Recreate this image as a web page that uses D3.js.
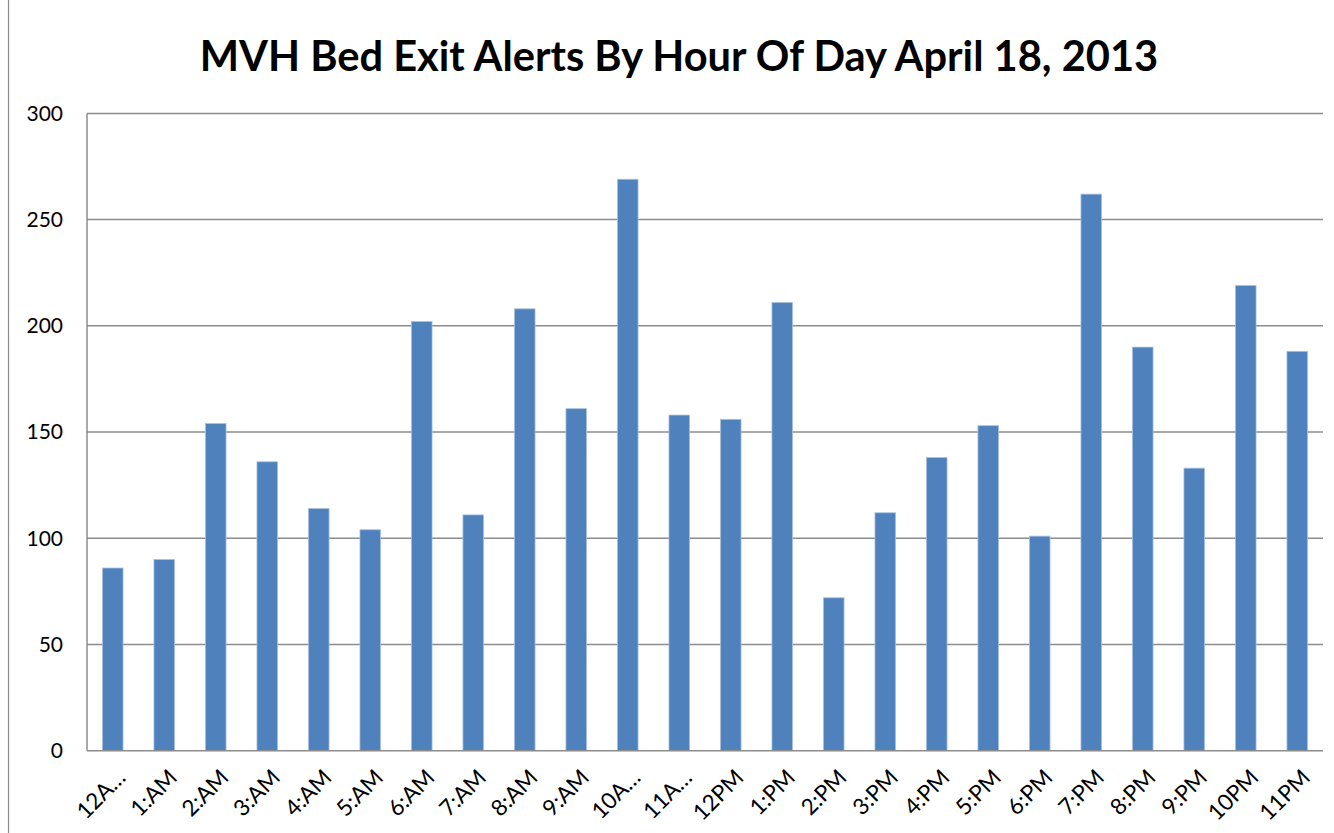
<!DOCTYPE html>
<html>
<head>
<meta charset="utf-8">
<script src="https://cdn.jsdelivr.net/npm/d3@7"></script>
<style>
  body { margin: 0; background: #fff; }
  svg { display: block; }
</style>
</head>
<body>
<div id="chart"></div>
<script>
// bed exit alerts per hour
var hours = ["12AM", "1:AM", "2:AM", "3:AM", "4:AM", "5:AM", "6:AM", "7:AM", "8:AM", "9:AM", "10AM", "11AM",
             "12PM", "1:PM", "2:PM", "3:PM", "4:PM", "5:PM", "6:PM", "7:PM", "8:PM", "9:PM", "10PM", "11PM"];
var alerts = [86, 90, 154, 136, 114, 104, 202, 111, 208, 161, 269, 158,
              156, 211, 72, 112, 138, 153, 101, 262, 190, 133, 219, 188];
var yTicks = [0, 50, 100, 150, 200, 250, 300];
// Excel cut these labels short
var shortLabels = {"12AM": "12A\u2026", "10AM": "10A\u2026", "11AM": "11A\u2026"};

function drawChart() {
    var W = 1334, H = 833;
    var margin = {top: 113.4, right: 11, bottom: 82.3, left: 87},
        width = W - margin.left - margin.right,
        height = H - margin.top - margin.bottom;

    var svg = d3.select("#chart").append("svg")
        .attr("width", W)
        .attr("height", H);

    // chart area border (only left edge is in frame)
    svg.append("rect")
        .attr("x", 8.5).attr("y", -10)
        .attr("width", 1400).attr("height", 900)
        .style("fill", "none")
        .style("stroke", "#8a8a8a")
        .style("stroke-width", 1.2);

    svg.append("text")
        .attr("x", 679)
        .attr("y", 71)
        .style("text-anchor", "middle")
        .style("font", "bold 41.6px Lato, 'Open Sans', sans-serif")
        .style("fill", "#000")
        .text("MVH Bed Exit Alerts By Hour Of Day April 18, 2013");

    var g = svg.append("g")
        .attr("transform", "translate(" + margin.left + "," + margin.top + ")");

    var x = d3.scaleBand()
        .domain(hours)
        .range([0, width])
        .paddingInner(0.6)
        .paddingOuter(0.3);

    var y = d3.scaleLinear()
        .domain([0, 300])
        .range([height, 0]);

    // gridlines
    g.append("g")
        .attr("class", "grid")
        .selectAll("line")
        .data(yTicks.filter(function(d) { return d > 0; }))
        .enter().append("line")
        .attr("x1", 0)
        .attr("x2", width)
        .attr("y1", function(d) { return y(d); })
        .attr("y2", function(d) { return y(d); })
        .style("stroke", "#8c8c8c")
        .style("stroke-width", 1.5);

    // bars
    g.selectAll(".bar")
        .data(alerts)
        .enter().append("rect")
        .attr("class", "bar")
        .attr("x", function(d, i) { return x(hours[i]); })
        .attr("width", x.bandwidth())
        .attr("y", function(d) { return y(d); })
        .attr("height", function(d) { return height - y(d); })
        .style("fill", "#4f81bd")
        .style("stroke", "#a9c1e0")
        .style("stroke-width", 0.8);

    // y axis
    var yAxis = d3.axisLeft(y)
        .tickValues(yTicks)
        .tickSize(0)
        .tickPadding(24);

    g.append("g")
        .attr("class", "y axis")
        .call(yAxis)
        .call(function(a) { a.select(".domain").remove(); })
        .selectAll("text")
        .style("font", "21px Lato, 'Open Sans', sans-serif")
        .style("fill", "#000");

    g.append("line")
        .attr("x1", 0).attr("x2", 0)
        .attr("y1", 0).attr("y2", height)
        .style("stroke", "#8c8c8c")
        .style("stroke-width", 1.5);

    // x axis
    g.append("line")
        .attr("x1", 0).attr("x2", width)
        .attr("y1", height).attr("y2", height)
        .style("stroke", "#8c8c8c")
        .style("stroke-width", 1.5);

    g.append("g")
        .attr("class", "x labels")
        .selectAll("text")
        .data(hours)
        .enter().append("text")
        .attr("transform", function(d) {
            var cx = x(d) + x.bandwidth() / 2;
            return "translate(" + (cx + 3) + "," + (height + 17) + ") rotate(-45)";
        })
        .attr("dy", "0.71em")
        .style("text-anchor", "end")
        .style("font", "22.5px Lato, 'Open Sans', sans-serif")
        .style("fill", "#000")
        .text(function(d) { return shortLabels[d] || d; });
}

drawChart();
</script>
</body>
</html>
